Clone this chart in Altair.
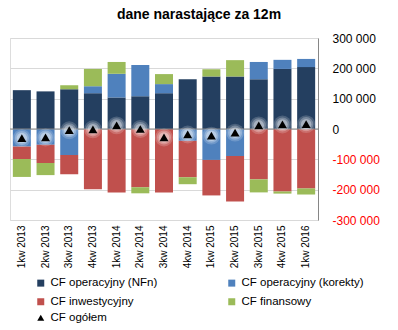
import altair as alt
import pandas as pd

quarters = ["1kw 2013", "2kw 2013", "3kw 2013", "4kw 2013", "1kw 2014", "2kw 2014",
            "3kw 2014", "4kw 2014", "1kw 2015", "2kw 2015", "3kw 2015", "4kw 2015", "1kw 2016"]
series_names = ["CF operacyjny (NFn)", "CF operacyjny (korekty)", "CF inwestycyjny", "CF finansowy"]
series_colors = ["#243F60", "#4F81BD", "#C0504D", "#9BBB59"]
total_name = "CF ogółem"
# legend is filled column by column, so list entries in that order
legend_order = [0, 2, 1, 3]

cf_nfn = [128000, 124000, 131000, 118000, 104000, 108000, 118000, 164000, 173000, 173000, 164000, 198000, 204000]
cf_korekty = [-58000, -52000, -86000, 23000, 78000, 103000, 30000, -39000, -102000, -89000, 57000, 30000, 27000]
cf_inwest = [-41000, -60000, -63000, -199000, -209000, -192000, -209000, -120000, -117000, -150000, -166000, -206000, -196000]
cf_finans = [-59000, -40000, 13000, 57000, 39000, -20000, 33000, -23000, 24000, 54000, -43000, -7000, -20000]
cf_ogolem = [-30000, -28000, -4000, -1000, 12000, 0, -28000, -18000, -22000, -12000, 12000, 15000, 16000]

y_ticks = [-300000, -200000, -100000, 0, 100000, 200000, 300000]

rows = []
for si, vals in enumerate([cf_nfn, cf_korekty, cf_inwest, cf_finans]):
    for q, v in zip(quarters, vals):
        rows.append({"kw": q, "series": series_names[si], "order": si, "value": v})
bars_df = pd.DataFrame(rows)
tot_df = pd.DataFrame({"kw": quarters, "series": total_name, "value": cf_ogolem})
zero_df = pd.DataFrame({"base": [0]})

FONT = "Liberation Sans"

x_enc = alt.X("kw:N", sort=quarters, title=None,
              scale=alt.Scale(paddingInner=0.24, paddingOuter=0.12),
              axis=alt.Axis(labelAngle=-90, domain=False, ticks=False, grid=False,
                            labelPadding=5, labelFontSize=10, labelFont=FONT,
                            labelColor="black"))
y_scale = alt.Scale(domain=[-300000, 300000], nice=False, zero=False)
y_axis = alt.Axis(orient="right", values=y_ticks, grid=True, gridColor="#D9D9D9",
                  domain=True, domainColor="#868686", ticks=False, labelPadding=14,
                  labelFont=FONT, labelFontSize=12, labelOverlap=False, labelBound=False,
                  labelExpr="(datum.value < 0 ? '-' : '') + replace(format(abs(datum.value), ','), ',', ' ')",
                  labelColor={"condition": {"test": "datum.value < 0", "value": "#FF0000"}, "value": "#000000"})

bars = alt.Chart(bars_df).mark_bar().encode(
    x=x_enc,
    y=alt.Y("value:Q", stack="zero", scale=y_scale, title=None, axis=y_axis),
    color=alt.Color("series:N",
                    scale=alt.Scale(domain=[series_names[i] for i in legend_order],
                                    range=[series_colors[i] for i in legend_order]),
                    title=None,
                    legend=alt.Legend(orient="none", legendX=25, legendY=239, columns=2,
                                      columnPadding=68, rowPadding=6, symbolType="square",
                                      symbolSize=49, symbolStrokeWidth=0, labelFont=FONT,
                                      labelFontSize=11.5, labelColor="black", padding=0)),
    order=alt.Order("order:Q", sort="ascending"),
)

zero_rule = alt.Chart(zero_df).mark_rule(color="#868686", strokeWidth=1).encode(
    y=alt.Y("base:Q", title=None, axis=y_axis)
)

def glow(size, op):
    return alt.Chart(tot_df).mark_point(shape="circle", filled=True, color="white",
                                        size=size, opacity=op, strokeWidth=0).encode(
        x=alt.X("kw:N", sort=quarters), y=alt.Y("value:Q", title=None, axis=y_axis))

tri = alt.Chart(tot_df).mark_point(filled=True, size=80, opacity=1, color="black",
                                   strokeWidth=0).encode(
    x=alt.X("kw:N", sort=quarters),
    y=alt.Y("value:Q", title=None, axis=y_axis),
    shape=alt.Shape("series:N", scale=alt.Scale(domain=[total_name], range=["triangle-up"]),
                    title=None,
                    legend=alt.Legend(orient="none", legendX=25, legendY=274, symbolSize=49,
                                      symbolFillColor="black", symbolStrokeWidth=0,
                                      labelFont=FONT, labelFontSize=11.5, labelColor="black",
                                      padding=0)),
)

chart = alt.layer(bars, zero_rule, glow(320, 0.18), glow(200, 0.25), glow(110, 0.35), tri).properties(
    width=308, height=182,
    title=alt.TitleParams("dane narastające za 12m", font=FONT, fontSize=14,
                          fontWeight="bold", color="black", anchor="middle", dx=35, offset=10),
    autosize=alt.AutoSizeParams(type="none"),
    padding={"left": 10, "top": 38, "right": 80, "bottom": 110},
).configure_view(stroke=None).configure(background="white").configure_axis(labelOverlap=False)

chart.save("out.html", embed_options={"renderer": "svg", "actions": False})
